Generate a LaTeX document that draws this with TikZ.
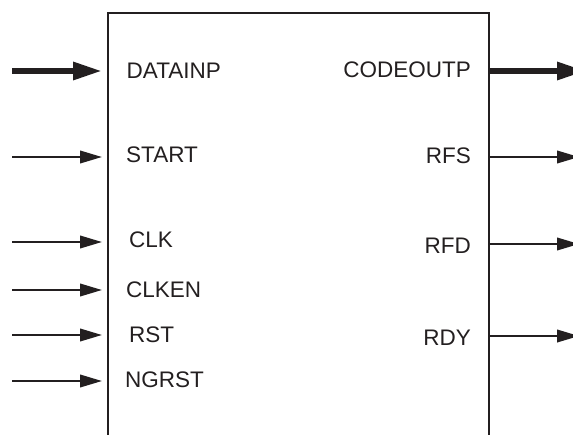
\documentclass[tikz,border=0pt]{standalone}
\usepackage{fontspec}
\setmainfont{Liberation Sans}
\usetikzlibrary{arrows.meta}
\definecolor{ink}{RGB}{35,31,32}
\begin{document}
\begin{tikzpicture}[x=1pt,y=-1pt,
  lbl/.style={inner sep=0pt, font=\fontsize{22.5}{27}\selectfont, text=ink},
  thinarrow/.style={draw=ink, line width=2.2pt, -{Triangle[length=22pt,width=12.5pt]}},
  busarrow/.style={draw=ink, line width=6pt, -{Triangle[length=29pt,width=17pt]}},
  blockbox/.style={draw=ink, line width=2pt, outer sep=0pt, inner sep=0pt, anchor=north west}
]
\useasboundingbox (0,0) rectangle (573,434);
\clip (0,0) rectangle (573,434);
\fill[white] (0,0) rectangle (573,434);

% block (open at the bottom edge of the picture)
\node[blockbox, minimum width=381pt, minimum height=437pt] (blk) at (108,13) {};

% input labels
\node[lbl, anchor=base west] (lDATAINP) at (126.5,78.3) {DATAINP};
\node[lbl, anchor=base west] (lSTART)   at (126,162) {START};
\node[lbl, anchor=base west] (lCLK)     at (129,247) {CLK};
\node[lbl, anchor=base west] (lCLKEN)   at (126,297) {CLKEN};
\node[lbl, anchor=base west] (lRST)     at (129,342) {RST};
\node[lbl, anchor=base west] (lNGRST)   at (125,387) {NGRST};

% output labels
\node[lbl, anchor=base east] (lCODEOUTP) at (471,77) {CODEOUTP};
\node[lbl, anchor=base east] (lRFS)      at (471,163) {RFS};
\node[lbl, anchor=base east] (lRFD)      at (471,253) {RFD};
\node[lbl, anchor=base east] (lRDY)      at (471,345) {RDY};

% input arrow ends
\coordinate (sDATAINP) at (12,71);
\coordinate (sSTART)   at (12,157);
\coordinate (sCLK)     at (12,242);
\coordinate (sCLKEN)   at (12,290);
\coordinate (sRST)     at (12,335);
\coordinate (sNGRST)   at (12,381);

\coordinate (tDATAINP) at (102,71);
\coordinate (tSTART)   at (102,157);
\coordinate (tCLK)     at (102,242);
\coordinate (tCLKEN)   at (102,290);
\coordinate (tRST)     at (102,335);
\coordinate (tNGRST)   at (102,381);

\draw[busarrow]   (sDATAINP) -- (tDATAINP);
\draw[thinarrow]  (sSTART) -- (tSTART);
\draw[thinarrow]  (sCLK) -- (tCLK);
\draw[thinarrow]  (sCLKEN) -- (tCLKEN);
\draw[thinarrow]  (sRST) -- (tRST);
\draw[thinarrow]  (sNGRST) -- (tNGRST);

% output arrow ends (tips run past the right edge of the picture)
\coordinate (eCODEOUTP) at (586,71);
\coordinate (eRFS)      at (579,157);
\coordinate (eRFD)      at (579,244);
\coordinate (eRDY)      at (579,336);

\draw[busarrow]  (blk.east |- eCODEOUTP) -- (eCODEOUTP);
\draw[thinarrow] (blk.east |- eRFS) -- (eRFS);
\draw[thinarrow] (blk.east |- eRFD) -- (eRFD);
\draw[thinarrow] (blk.east |- eRDY) -- (eRDY);
\end{tikzpicture}
\end{document}
